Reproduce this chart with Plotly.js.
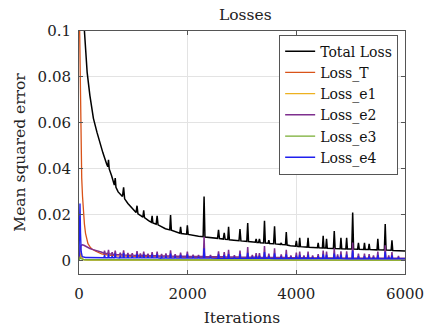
<!DOCTYPE html>
<html>
<head>
<meta charset="utf-8">
<script src="https://cdn.plot.ly/plotly-3.0.1.min.js"></script>
<style>html,body{margin:0;padding:0;background:#fff;}#chart{width:426px;height:327px;}</style>
</head>
<body>
<div id="chart"></div>
<script>
// ---- Data ----
const seriesNames = ["Total Loss", "Loss_T", "Loss_e1", "Loss_e2", "Loss_e3", "Loss_e4"];

const totalIter = [
  1, 50, 100, 150, 200, 265, 330, 400, 440, 510, 530, 543, 556, 600, 650, 667, 680, 720, 800, 821, 840,
  900, 1000, 1050, 1068, 1085, 1150, 1175, 1191, 1205, 1280, 1330, 1346, 1360, 1420, 1438, 1455,
  1550, 1590, 1670, 1685, 1700, 1800, 1855, 1870, 1885, 1980, 1994, 2010, 2100, 2200, 2285, 2302, 2318,
  2400, 2550, 2568, 2585, 2655, 2673, 2690, 2738, 2753, 2768, 2850, 2945, 2963, 2980, 3088, 3105, 3120,
  3190, 3245, 3260, 3275, 3305, 3321, 3335, 3398, 3414, 3430, 3480, 3494, 3508, 3582, 3599, 3615,
  3708, 3722, 3736, 3800, 3815, 3830, 3890, 3985, 4000, 4015, 4048, 4062, 4076, 4200, 4216, 4230,
  4388, 4402, 4416, 4480, 4494, 4508, 4542, 4556, 4570, 4682, 4698, 4714, 4806, 4821, 4836,
  4911, 4926, 4940, 5020, 5037, 5054, 5128, 5143, 5158, 5240, 5254, 5268, 5326, 5340, 5354,
  5485, 5500, 5515, 5620, 5636, 5652, 5745, 5760, 5775, 5900, 6000
];
const totalLoss = [
  0.25, 0.14, 0.10, 0.082, 0.072, 0.062, 0.056, 0.050, 0.047, 0.042, 0.041, 0.044, 0.040, 0.037, 0.033, 0.036, 0.032, 0.030, 0.028, 0.032, 0.027,
  0.025, 0.0225, 0.021, 0.024, 0.0205, 0.0195, 0.019, 0.022, 0.0188, 0.0175, 0.0168, 0.0196, 0.0165, 0.016, 0.0196, 0.0157,
  0.0145, 0.014, 0.0135, 0.020, 0.0133, 0.0125, 0.012, 0.0148, 0.0119, 0.0116, 0.0155, 0.0115, 0.011, 0.0107, 0.0105, 0.028, 0.0104,
  0.0102, 0.0098, 0.0135, 0.0097, 0.0095, 0.0122, 0.0094, 0.0093, 0.0148, 0.0092, 0.0090, 0.0088, 0.0139, 0.0087, 0.0085, 0.0165, 0.0084,
  0.0082, 0.0081, 0.0096, 0.0080, 0.0080, 0.0096, 0.0079, 0.0078, 0.0174, 0.0078, 0.0077, 0.0090, 0.0076, 0.0075, 0.0150, 0.0074,
  0.0072, 0.0078, 0.0071, 0.0070, 0.0126, 0.0069, 0.0066, 0.0064, 0.0087, 0.0063, 0.0062, 0.0100, 0.0062, 0.0060, 0.0100, 0.0059,
  0.0057, 0.0078, 0.0057, 0.0056, 0.0109, 0.0056, 0.0056, 0.0096, 0.0055, 0.0054, 0.0130, 0.0054, 0.0053, 0.0100, 0.0053,
  0.0052, 0.0100, 0.0052, 0.0052, 0.0210, 0.0052, 0.0051, 0.0078, 0.0051, 0.0050, 0.0078, 0.0050, 0.0050, 0.0074, 0.0049,
  0.0048, 0.0096, 0.0048, 0.0047, 0.0160, 0.0047, 0.0046, 0.0090, 0.0045, 0.0044, 0.0043
];

const lossTIter = [0, 10, 20, 30, 40, 50, 65, 80, 100, 120, 142, 165, 200, 230, 300, 415, 537, 700, 1000, 1500, 2000, 3000, 4000, 5000, 6000];
const lossT = [0.12, 0.10, 0.07, 0.052, 0.043, 0.036, 0.028, 0.022, 0.016, 0.012, 0.0092, 0.0075, 0.0062, 0.0053, 0.0043, 0.0031, 0.0025, 0.0022, 0.0020, 0.0017, 0.0015, 0.0013, 0.0012, 0.0011, 0.0010];

const lossE1Iter = [0, 15, 30, 50, 80, 150, 6000];
const lossE1 = [0, 0.002, 0.0032, 0.0015, 0.0006, 0.0004, 0.0003];

const lossE3Iter = [0, 20, 40, 100, 6000];
const lossE3 = [0, 0.0015, 0.001, 0.0005, 0.0003];

const lowIter = [
  0, 8, 18, 28, 40, 60, 90, 120, 160, 200, 260, 320, 370, 420,
  458,470,482, 531,543,555, 598,610,622, 655,667,679,
  748,760,772, 809,821,833, 888,900,912, 968,980,992,
  1056,1068,1080, 1118,1130,1142, 1179,1191,1203, 1258,1270,1282,
  1334,1346,1358, 1426,1438,1450, 1508,1520,1532, 1588,1600,1612,
  1673,1685,1697, 1758,1770,1782, 1858,1870,1882, 1982,1994,2006,
  2088,2100,2112, 2188,2200,2212, 2290,2302,2314, 2408,2420,2432,
  2556,2568,2580, 2661,2673,2685, 2741,2753,2765, 2848,2860,2872, 2951,2963,2975,
  3093,3105,3117, 3178,3190,3202, 3248,3260,3272, 3309,3321,3333, 3402,3414,3426,
  3482,3494,3506, 3587,3599,3611, 3710,3722,3734, 3803,3815,3827, 3888,3900,3912,
  3988,4000,4012, 4050,4062,4074, 4128,4140,4152, 4204,4216,4228, 4288,4300,4312,
  4390,4402,4414, 4482,4494,4506, 4544,4556,4568, 4686,4698,4710, 4748,4760,4772,
  4809,4821,4833, 4914,4926,4938,
  5025,5037,5049, 5131,5143,5155, 5242,5254,5266, 5328,5340,5352, 5408,5420,5432,
  5488,5500,5512, 5624,5636,5648, 5688,5700,5712, 5748,5760,5772, 5868,5880,5892,
  6000
];
const lossE2 = [
  0, 0.003, 0.005, 0.0062, 0.0068, 0.007, 0.0068, 0.0064, 0.0058, 0.0054, 0.0049, 0.0046, 0.0043, 0.0038,
  0.0033,0.0045,0.0033, 0.0031,0.0048,0.0031, 0.0029,0.0038,0.0029, 0.0028,0.0045,0.0028,
  0.0027,0.0036,0.0027, 0.0026,0.0046,0.0026, 0.0025,0.0034,0.0025, 0.0025,0.0033,0.0025,
  0.0024,0.0042,0.0024, 0.0024,0.0032,0.0024, 0.0023,0.0040,0.0023, 0.0023,0.0031,0.0023,
  0.0022,0.0038,0.0022, 0.0022,0.0040,0.0022, 0.0021,0.0030,0.0021, 0.0021,0.0032,0.0021,
  0.0021,0.0046,0.0021, 0.0020,0.0029,0.0020, 0.0020,0.0036,0.0020, 0.0020,0.0040,0.0020,
  0.0019,0.0027,0.0019, 0.0019,0.0026,0.0019, 0.0019,0.0105,0.0019, 0.0018,0.0026,0.0018,
  0.0018,0.0042,0.0018, 0.0018,0.0038,0.0018, 0.0017,0.0048,0.0017, 0.0017,0.0025,0.0017, 0.0017,0.0045,0.0017,
  0.0016,0.0060,0.0016, 0.0016,0.0026,0.0016, 0.0016,0.0034,0.0016, 0.0016,0.0034,0.0016, 0.0015,0.0065,0.0015,
  0.0015,0.0032,0.0015, 0.0015,0.0055,0.0015, 0.0015,0.0028,0.0015, 0.0015,0.0048,0.0015, 0.0014,0.0024,0.0014,
  0.0014,0.0036,0.0014, 0.0014,0.0040,0.0014, 0.0014,0.0024,0.0014, 0.0014,0.0040,0.0014, 0.0013,0.0024,0.0013,
  0.0013,0.0030,0.0013, 0.0013,0.0045,0.0013, 0.0013,0.0040,0.0013, 0.0013,0.0055,0.0013, 0.0013,0.0028,0.0013,
  0.0013,0.0042,0.0013, 0.0012,0.0042,0.0012,
  0.0012,0.0080,0.0012, 0.0012,0.0032,0.0012, 0.0012,0.0032,0.0012, 0.0012,0.0030,0.0012, 0.0012,0.0024,0.0012,
  0.0012,0.0040,0.0012, 0.0012,0.0068,0.0012, 0.0011,0.0024,0.0011, 0.0011,0.0038,0.0011, 0.0011,0.0022,0.0011,
  0.0011
];
const lossE4 = [
  0.002, 0.012, 0.025, 0.012, 0.004, 0.0018, 0.0015, 0.0015, 0.0015, 0.0015, 0.0015, 0.0015, 0.0014, 0.0014,
  0.0014,0.0026,0.0014, 0.0014,0.0030,0.0014, 0.0014,0.0022,0.0014, 0.0014,0.0032,0.0014,
  0.0013,0.0024,0.0013, 0.0013,0.0034,0.0013, 0.0013,0.0025,0.0013, 0.0013,0.0022,0.0013,
  0.0013,0.0030,0.0013, 0.0013,0.0022,0.0013, 0.0013,0.0028,0.0013, 0.0013,0.0021,0.0013,
  0.0013,0.0027,0.0013, 0.0013,0.0028,0.0013, 0.0012,0.0020,0.0012, 0.0012,0.0022,0.0012,
  0.0012,0.0032,0.0012, 0.0012,0.0020,0.0012, 0.0012,0.0026,0.0012, 0.0012,0.0028,0.0012,
  0.0012,0.0019,0.0012, 0.0012,0.0018,0.0012, 0.0012,0.0055,0.0012, 0.0012,0.0018,0.0012,
  0.0011,0.0028,0.0011, 0.0011,0.0025,0.0011, 0.0011,0.0030,0.0011, 0.0011,0.0017,0.0011, 0.0011,0.0029,0.0011,
  0.0011,0.0035,0.0011, 0.0011,0.0018,0.0011, 0.0011,0.0022,0.0011, 0.0011,0.0022,0.0011, 0.0011,0.0038,0.0011,
  0.0011,0.0021,0.0011, 0.0010,0.0033,0.0010, 0.0010,0.0019,0.0010, 0.0010,0.0029,0.0010, 0.0010,0.0017,0.0010,
  0.0010,0.0023,0.0010, 0.0010,0.0026,0.0010, 0.0010,0.0017,0.0010, 0.0010,0.0026,0.0010, 0.0010,0.0017,0.0010,
  0.0010,0.0020,0.0010, 0.0010,0.0028,0.0010, 0.0010,0.0026,0.0010, 0.0010,0.0032,0.0010, 0.0010,0.0019,0.0010,
  0.0010,0.0027,0.0010, 0.0009,0.0027,0.0009,
  0.0009,0.0045,0.0009, 0.0009,0.0021,0.0009, 0.0009,0.0021,0.0009, 0.0009,0.0020,0.0009, 0.0009,0.0016,0.0009,
  0.0009,0.0025,0.0009, 0.0009,0.0040,0.0009, 0.0009,0.0016,0.0009, 0.0009,0.0024,0.0009, 0.0009,0.0015,0.0009,
  0.0009
];

const xTicks = [0, 2000, 4000, 6000];
const xTickText = ["0", "2000", "4000", "6000"];
const yTicks = [0, 0.02, 0.04, 0.06, 0.08, 0.1];
const yTickText = ["0", "0.02", "0.04", "0.06", "0.08", "0.1"];

// ---- Chart ----
const FONT = "DejaVu Serif, Liberation Serif, serif";
const colors = ["#000000", "#D95319", "#EDB120", "#7E2F8E", "#77AC30", "#1f1fee"];
const xs = [totalIter, lossTIter, lossE1Iter, lowIter, lossE3Iter, lowIter];
const ys = [totalLoss, lossT, lossE1, lossE2, lossE3, lossE4];
const widths = [1.5, 1.3, 1.3, 1.5, 1.3, 1.4];

const traces = seriesNames.map((n, i) => ({
  type: "scatter", mode: "lines", name: n,
  x: xs[i], y: ys[i],
  line: {color: colors[i], width: widths[i]}
}));

const axisCommon = {
  showgrid: true, gridcolor: "#e3e3e3", gridwidth: 1,
  zeroline: false, showline: true, linecolor: "#555", linewidth: 1,
  mirror: "ticks", ticks: "inside", ticklen: 4, tickcolor: "#555",
  tickfont: {family: FONT, size: 15, color: "#222"}
};

const layout = {
  width: 426, height: 327,
  margin: {l: 79, r: 21, t: 31, b: 53},
  paper_bgcolor: "#fff", plot_bgcolor: "#fff",
  font: {family: FONT, color: "#222"},
  title: {text: "Losses", font: {family: FONT, size: 15.5, color: "#222"},
          x: 0.51, xref: "paper", xanchor: "center", y: 1 - 15/327, yref: "container", yanchor: "middle"},
  xaxis: Object.assign({}, axisCommon, {
    range: [0, 6000], tickvals: xTicks, ticktext: xTickText, ticklabelstandoff: 6,
    title: {text: "Iterations", font: {family: FONT, size: 15.5, color: "#222"}, standoff: 10}
  }),
  yaxis: Object.assign({}, axisCommon, {
    range: [-0.0057, 0.1], tickvals: yTicks, ticktext: yTickText, ticklabelstandoff: 4,
    title: {text: "Mean squared error", font: {family: FONT, size: 15.5, color: "#222"}, standoff: 8}
  }),
  showlegend: true,
  legend: {
    x: 0.979, y: 0.985, xanchor: "right", yanchor: "top",
    bgcolor: "#fff", bordercolor: "#555", borderwidth: 1,
    font: {family: FONT, size: 14, color: "#111"},
    itemwidth: 30, tracegroupgap: 0
  }
};

Plotly.newPlot("chart", traces, layout, {staticPlot: true, displayModeBar: false});
</script>
</body>
</html>
